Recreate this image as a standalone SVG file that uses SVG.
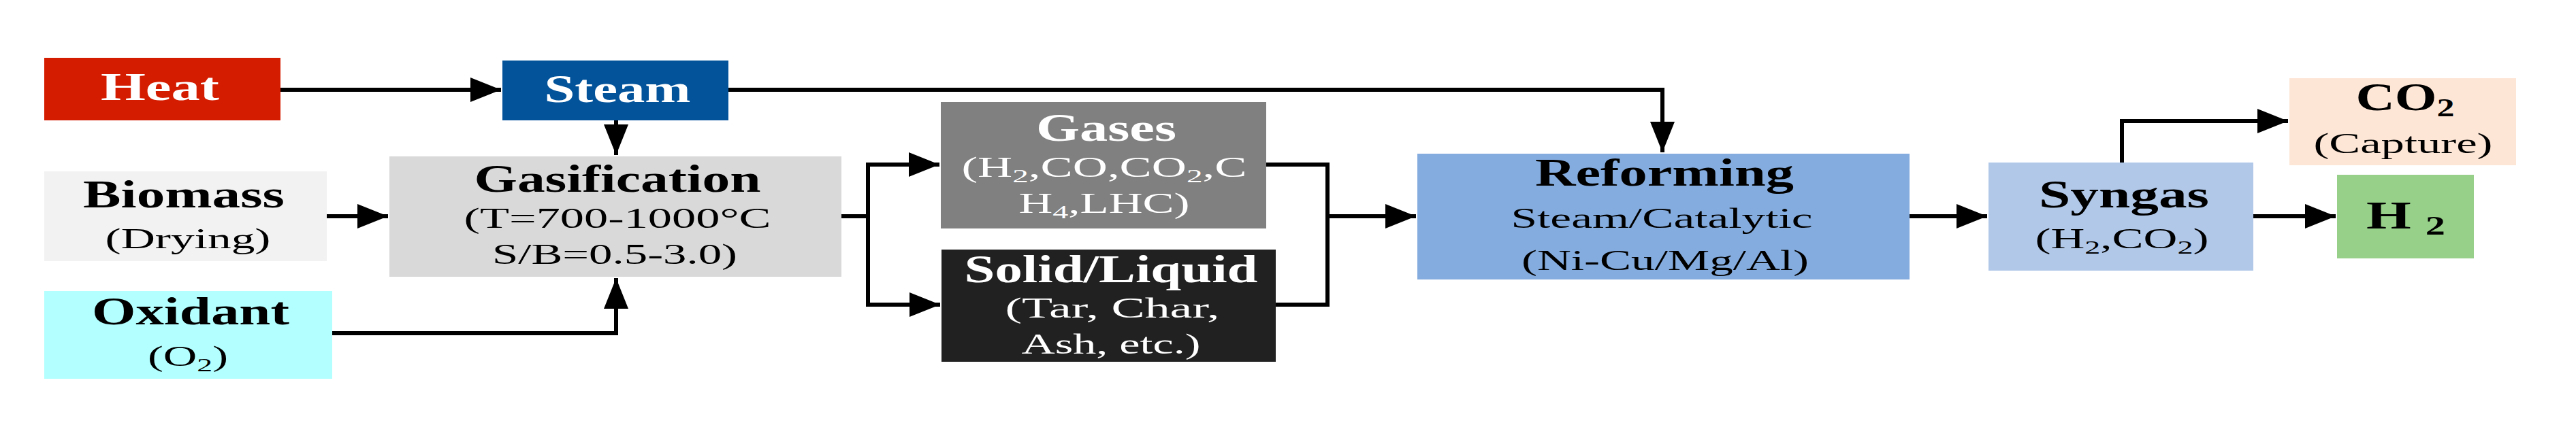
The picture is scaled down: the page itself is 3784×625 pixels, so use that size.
<svg xmlns="http://www.w3.org/2000/svg" width="3784" height="625" viewBox="0 0 3784 625">
<style>
text{font-family:"Liberation Serif","Times New Roman",serif;text-anchor:middle}
.t{font-size:58px;font-weight:bold}
.s{font-size:42px}
.w{fill:#ffffff}
.k{fill:#000000}
.c{fill:none;stroke:#000;stroke-width:6;stroke-linejoin:miter}
</style>
<defs>
<marker id="ah" markerUnits="userSpaceOnUse" markerWidth="46" markerHeight="36" refX="45" refY="18" orient="auto">
<path d="M0,0 L45,18 L0,36 Z" fill="#000"/>
</marker>
</defs>
<rect width="3784" height="625" fill="#ffffff"/>

<g id="connectors">
<path class="c" d="M412,132 H736" marker-end="url(#ah)"/>
<path class="c" d="M905,177 V228" marker-end="url(#ah)"/>
<path class="c" d="M1070,132 H2442 V224" marker-end="url(#ah)"/>
<path class="c" d="M480,318 H570" marker-end="url(#ah)"/>
<path class="c" d="M488,490 H905 V409" marker-end="url(#ah)"/>
<path class="c" d="M1236,318 H1275 V242 H1380" marker-end="url(#ah)"/>
<path class="c" d="M1275,318 V448 H1381" marker-end="url(#ah)"/>
<path class="c" d="M1860,242 H1950 V318 H2080" marker-end="url(#ah)"/>
<path class="c" d="M1874,448 H1950 V318"/>
<path class="c" d="M2805,318 H2919" marker-end="url(#ah)"/>
<path class="c" d="M3117,239 V178 H3361" marker-end="url(#ah)"/>
<path class="c" d="M3310,318 H3431" marker-end="url(#ah)"/>
</g>

<g id="heat">
<rect x="65" y="85" width="347" height="92" fill="#D41C00"/>
<text class="t w" x="235" y="147" textLength="174" lengthAdjust="spacingAndGlyphs">Heat</text>
</g>

<g id="steam">
<rect x="738" y="89" width="332" height="88" fill="#03539B"/>
<text class="t w" x="907" y="150" textLength="215" lengthAdjust="spacingAndGlyphs">Steam</text>
</g>

<g id="biomass">
<rect x="65" y="252" width="415" height="132" fill="#F2F2F2"/>
<text class="t k" x="270" y="305" textLength="296" lengthAdjust="spacingAndGlyphs">Biomass</text>
<text class="s k" x="276" y="365" textLength="243" lengthAdjust="spacingAndGlyphs">(Drying)</text>
</g>

<g id="oxidant">
<rect x="65" y="428" width="423" height="129" fill="#B3FFFF"/>
<text class="t k" x="280" y="477" textLength="290" lengthAdjust="spacingAndGlyphs">Oxidant</text>
<text class="s k" x="276" y="538" textLength="118" lengthAdjust="spacingAndGlyphs">(O<tspan dy="8" font-size="28">2</tspan><tspan dy="-8">)</tspan></text>
</g>

<g id="gasification">
<rect x="572" y="230" width="664" height="177" fill="#D9D9D9"/>
<text class="t k" x="907" y="282" textLength="421" lengthAdjust="spacingAndGlyphs">Gasification</text>
<text class="s k" x="907" y="335" textLength="451" lengthAdjust="spacingAndGlyphs">(T=700-1000°C</text>
<text class="s k" x="903" y="388" textLength="360" lengthAdjust="spacingAndGlyphs">S/B=0.5-3.0)</text>
</g>

<g id="gases">
<rect x="1382" y="150" width="478" height="186" fill="#808080"/>
<text class="t w" x="1625" y="207" textLength="206" lengthAdjust="spacingAndGlyphs">Gases</text>
<text class="s w" x="1622" y="260" textLength="419" lengthAdjust="spacingAndGlyphs">(H<tspan dy="8" font-size="28">2</tspan><tspan dy="-8">,CO,CO</tspan><tspan dy="8" font-size="28">2</tspan><tspan dy="-8">,C</tspan></text>
<text class="s w" x="1622" y="313" textLength="251" lengthAdjust="spacingAndGlyphs">H<tspan dy="8" font-size="28">4</tspan><tspan dy="-8">,LHC)</tspan></text>
</g>

<g id="solid-liquid">
<rect x="1383" y="367" width="491" height="165" fill="#212121"/>
<text class="t w" x="1632" y="415" textLength="431" lengthAdjust="spacingAndGlyphs">Solid/Liquid</text>
<text class="s w" x="1634" y="467" textLength="315" lengthAdjust="spacingAndGlyphs">(Tar, Char,</text>
<text class="s w" x="1632" y="520" textLength="263" lengthAdjust="spacingAndGlyphs">Ash, etc.)</text>
</g>

<g id="reforming">
<rect x="2082" y="226" width="723" height="185" fill="#85ACDE"/>
<text class="t k" x="2445" y="273" textLength="380" lengthAdjust="spacingAndGlyphs">Reforming</text>
<text class="s k" x="2441" y="335" textLength="443" lengthAdjust="spacingAndGlyphs">Steam/Catalytic</text>
<text class="s k" x="2446" y="397" textLength="422" lengthAdjust="spacingAndGlyphs">(Ni-Cu/Mg/Al)</text>
</g>

<g id="syngas">
<rect x="2921" y="239" width="389" height="159" fill="#B1C8E9"/>
<text class="t k" x="3120" y="305" textLength="250" lengthAdjust="spacingAndGlyphs">Syngas</text>
<text class="s k" x="3117" y="365" textLength="255" lengthAdjust="spacingAndGlyphs">(H<tspan dy="8" font-size="28">2</tspan><tspan dy="-8">,CO</tspan><tspan dy="8" font-size="28">2</tspan><tspan dy="-8">)</tspan></text>
</g>

<g id="co2">
<rect x="3363" y="115" width="333" height="128" fill="#FEE6D6"/>
<text class="t k" x="3533" y="162" textLength="145" lengthAdjust="spacingAndGlyphs">CO<tspan dy="9" font-size="38">2</tspan></text>
<text class="s k" x="3530" y="225" textLength="263" lengthAdjust="spacingAndGlyphs">(Capture)</text>
</g>

<g id="h2">
<rect x="3433" y="257" width="201" height="123" fill="#97D089"/>
<text class="t k" x="3534" y="336" textLength="116" lengthAdjust="spacingAndGlyphs">H <tspan dy="9" font-size="40">2</tspan></text>
</g>
</svg>
